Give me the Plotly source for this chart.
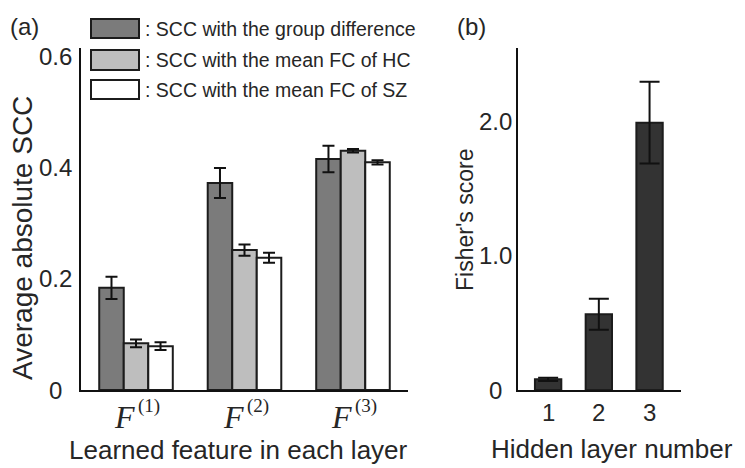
import plotly.graph_objects as go

W, H = 745, 468

# ---- data ----
features = [1, 2, 3]
feature_base = ["F", "F", "F"]
feature_sup = ["(1)", "(2)", "(3)"]
group_diff = [0.184, 0.373, 0.416]
group_diff_err = [0.020, 0.027, 0.024]
mean_hc = [0.084, 0.252, 0.431]
mean_hc_err = [0.007, 0.010, 0.003]
mean_sz = [0.079, 0.238, 0.410]
mean_sz_err = [0.007, 0.009, 0.004]
series_names = [": SCC with the group difference", ": SCC with the mean FC of HC", ": SCC with the mean FC of SZ"]

layers = [1, 2, 3]
layer_labels = ["1", "2", "3"]
fisher = [0.08, 0.565, 1.995]
fisher_err = [0.012, 0.115, 0.305]

a_ticks = [0, 0.2, 0.4, 0.6]
a_tick_text = ["0", "0.2", "0.4", "0.6"]
b_ticks = [0, 1.0, 2.0]
b_tick_text = ["0", "1.0", "2.0"]

# ---- style ----
colors = ["#7b7b7b", "#bebebe", "#ffffff"]
edge = "#1c1c1c"
sans = "Liberation Sans, Arial, sans-serif"
serif = "Liberation Serif, Times New Roman, serif"
txt = "#262626"

def px(x):
    return x / W

def py(y):
    return 1 - y / H

fig = go.Figure()

bw = 0.226
offsets = [-1.5 * bw, -0.5 * bw, 0.5 * bw]
for vals, errs, col, name, off in zip([group_diff, mean_hc, mean_sz],
                                      [group_diff_err, mean_hc_err, mean_sz_err],
                                      colors, series_names, offsets):
    fig.add_trace(go.Bar(
        x=[f - 1 for f in features], y=vals, name=name, width=bw, offset=off,
        marker=dict(color=col, line=dict(color=edge, width=2)),
        error_y=dict(type="data", array=errs, color="#111", thickness=2, width=6),
        xaxis="x", yaxis="y", showlegend=False))

fig.add_trace(go.Bar(
    x=layers, y=fisher, width=0.52,
    marker=dict(color="#333333", line=dict(color=edge, width=2)),
    error_y=dict(type="data", array=fisher_err, color="#111", thickness=2, width=10),
    xaxis="x2", yaxis="y2", showlegend=False))

ydom = [py(390), py(48)]
axis_common = dict(showline=True, linecolor="#111", linewidth=2, showgrid=False,
                   zeroline=False, ticks="", showticklabels=False, fixedrange=True)

fig.update_layout(
    width=W, height=H, margin=dict(l=0, r=0, t=0, b=0),
    paper_bgcolor="white", plot_bgcolor="white", barmode="overlay",
    xaxis=dict(domain=[px(81), px(408)], range=[-0.507, 2.507], anchor="y", **axis_common),
    yaxis=dict(domain=ydom, range=[0, 0.616], anchor="x", **axis_common),
    xaxis2=dict(domain=[px(517.7), px(681)], range=[0.4, 3.62], anchor="y2", **axis_common),
    yaxis2=dict(domain=ydom, range=[0, 2.552], anchor="x2", **axis_common),
)

ann = []
# y tick labels (centered)
for v, t in zip(a_ticks, a_tick_text):
    ann.append(dict(x=px(55), xref="paper", y=v, yref="y", text=t, showarrow=False,
                    xanchor="center", yanchor="middle", font=dict(family=sans, size=24, color=txt)))
for v, t in zip(b_ticks, b_tick_text):
    ann.append(dict(x=px(495), xref="paper", y=v, yref="y2", text=t, showarrow=False,
                    xanchor="center", yanchor="middle", font=dict(family=sans, size=24, color=txt)))
# x tick labels: italic F with superscript layer index
for f, base, sup in zip(features, feature_base, feature_sup):
    ann.append(dict(x=f - 1, xref="x", y=py(417), yref="paper", text="<i>" + base + "</i>",
                    showarrow=False, xanchor="right", yanchor="middle", xshift=1,
                    font=dict(family=serif, size=32, color=txt)))
    ann.append(dict(x=f - 1, xref="x", y=py(406), yref="paper", text=sup,
                    showarrow=False, xanchor="left", yanchor="middle", xshift=0,
                    font=dict(family=serif, size=19, color=txt)))
for l, t in zip(layers, layer_labels):
    ann.append(dict(x=l, xref="x2", y=py(412), yref="paper", text=t, showarrow=False,
                    xanchor="center", yanchor="middle", font=dict(family=sans, size=24, color=txt)))
# axis titles
ann.append(dict(x=px(238), y=py(450), xref="paper", yref="paper", text="Learned feature in each layer",
                showarrow=False, xanchor="center", yanchor="middle", font=dict(family=sans, size=26, color=txt)))
ann.append(dict(x=px(612), y=py(449), xref="paper", yref="paper", text="Hidden layer number",
                showarrow=False, xanchor="center", yanchor="middle", font=dict(family=sans, size=26, color=txt)))
ann.append(dict(x=px(22), y=py(238), xref="paper", yref="paper", text="Average absolute SCC", textangle=-90,
                showarrow=False, xanchor="center", yanchor="middle", font=dict(family=sans, size=28, color=txt)))
ann.append(dict(x=px(465), y=py(220), xref="paper", yref="paper", text="Fisher's score", textangle=-90,
                showarrow=False, xanchor="center", yanchor="middle", font=dict(family=sans, size=23, color=txt)))
# panel labels
ann.append(dict(x=px(8), y=py(26), xref="paper", yref="paper", text="(a)", showarrow=False,
                xanchor="left", yanchor="middle", font=dict(family=sans, size=24, color=txt)))
ann.append(dict(x=px(455), y=py(26), xref="paper", yref="paper", text="(b)", showarrow=False,
                xanchor="left", yanchor="middle", font=dict(family=sans, size=24, color=txt)))

# legend (swatches + text)
shapes = []
leg_rows = [(19, 38), (50, 70), (80, 99)]
for (y0, y1), col, name in zip(leg_rows, colors, series_names):
    shapes.append(dict(type="rect", xref="paper", yref="paper", x0=px(91), x1=px(139),
                       y0=py(y1), y1=py(y0), fillcolor=col, line=dict(color=edge, width=2)))
    ann.append(dict(x=px(143), y=py((y0 + y1) / 2), xref="paper", yref="paper", text=name,
                    showarrow=False, xanchor="left", yanchor="middle",
                    font=dict(family=sans, size=19.5, color=txt)))

fig.update_layout(annotations=ann, shapes=shapes)
fig.write_html("out.html", config={"displayModeBar": False},
               post_script="document.body.style.margin='0';document.body.style.padding='0';"
                           "document.body.style.overflow='hidden';")
